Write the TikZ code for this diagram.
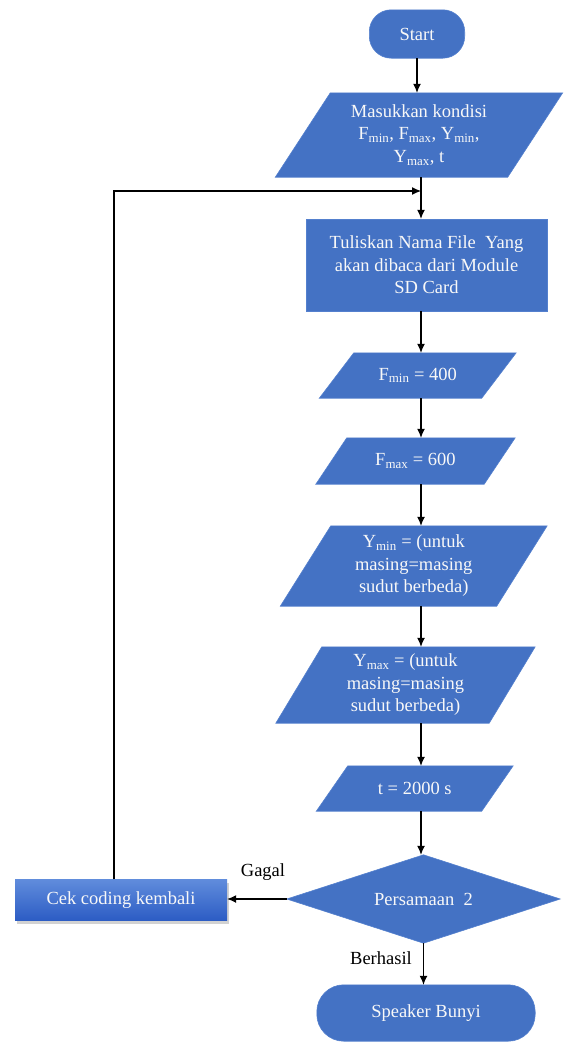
\documentclass[tikz,border=0pt]{standalone}
\usepackage{fontspec}
\setmainfont{Liberation Serif}
\usetikzlibrary{arrows.meta,backgrounds,shadows}
\definecolor{boxblue}{RGB}{68,114,196}
\definecolor{boxedge}{RGB}{84,128,206}
\definecolor{txtw}{RGB}{248,248,248}
\definecolor{cektop}{RGB}{96,140,220}
\definecolor{cekbot}{RGB}{44,92,196}
\newcommand\parabox[2]{%
  \draw[shapefill] ([xshift={-0.5*#2pt}]#1.south west) -- ([xshift={-0.5*#2pt}]#1.south east)
    -- ([xshift={0.5*#2pt}]#1.north east) -- ([xshift={0.5*#2pt}]#1.north west) -- cycle;}
\begin{document}
\begin{tikzpicture}[x=1pt,y=-1pt,
  font=\fontsize{18.5}{22.5}\selectfont,
  txt/.style={text=txtw, align=center, inner sep=0pt},
  shapefill/.style={fill=boxblue, draw=boxedge, line width=0.6pt},
  cekbox/.style={txt, rectangle, top color=cektop, bottom color=cekbot, draw=none,
    drop shadow={shadow xshift=2pt, shadow yshift=-3pt, opacity=0.35}},
  lbl/.style={text=black, inner sep=0pt},
  arr/.style={-{Latex[length=9pt,width=8pt]}, line width=1.1pt, black}]
\useasboundingbox (0,0) rectangle (574,1042);

\node[txt, minimum width=95pt, minimum height=48pt] (start) at (417,34) {Start};
\node[txt, minimum width=232pt, minimum height=84pt] (in) at (419,135)
  {Masukkan kondisi\\F\textsubscript{min}, F\textsubscript{max}, Y\textsubscript{min},\\Y\textsubscript{max}, t};
\node[txt, minimum width=241pt, minimum height=92pt] (file) at (426.5,265)
  {Tuliskan Nama File~ Yang\\akan dibaca dari Module\\SD Card};
\node[txt, minimum width=162pt, minimum height=45pt] (fmin) at (417.75,375.5) {F\textsubscript{min} = 400};
\node[txt, minimum width=168pt, minimum height=46pt] (fmax) at (415.5,461) {F\textsubscript{max} = 600};
\node[txt, minimum width=216pt, minimum height=80pt] (ymin) at (413.75,566)
  {Y\textsubscript{min} = (untuk\\masing=masing\\sudut berbeda)};
\node[txt, minimum width=213pt, minimum height=76pt] (ymax) at (405.5,685)
  {Y\textsubscript{max} = (untuk\\masing=masing\\sudut berbeda)};
\node[txt, minimum width=165pt, minimum height=45pt] (tt) at (414.75,788.5) {t = 2000 s};
\node[txt, minimum width=273pt, minimum height=88pt] (dec) at (423.5,899) {Persamaan~\ 2};
\node[cekbox, minimum width=212pt, minimum height=41pt] (cek) at (121,900) {Cek coding kembali};
\node[txt, minimum width=218pt, minimum height=56pt] (spk) at (426,1013) {Speaker Bunyi};
\node[lbl] (gagal) at (263,872) {Gagal};
\node[lbl] (berhasil) at (381,958) {Berhasil};

\coordinate (cx) at (421,0);
\coordinate (loopx) at (114,0);
\coordinate (join) at (421,191);

\draw[arr] (start.south) -- (in.north -| start.south);
\draw[line width=1.1pt] (in.south -| cx) -- (join);
\draw[arr] (join) -- (file.north -| cx);
\draw[arr] (cek.north -| loopx) -- (loopx |- join) -- (join);
\draw[arr] (file.south -| cx) -- (fmin.north -| cx);
\draw[arr] (fmin.south -| cx) -- (fmax.north -| cx);
\draw[arr] (fmax.south -| cx) -- (ymin.north -| cx);
\draw[arr] (ymin.south -| cx) -- (ymax.north -| cx);
\draw[arr] (ymax.south -| cx) -- (tt.north -| cx);
\draw[arr] (tt.south -| cx) -- (dec.north -| cx);
\draw[arr] (dec.west) -- (dec.west -| cek.east);
\draw[arr] (dec.south) -- (spk.north -| dec.south);

\begin{scope}[on background layer]
\fill[white] (0,0) rectangle (574,1042);
\draw[shapefill, rounded corners=22pt] (start.south west) rectangle (start.north east);
\parabox{in}{55}
\draw[shapefill] (file.south west) rectangle (file.north east);
\parabox{fmin}{34.5}
\parabox{fmax}{31}
\parabox{ymin}{50.5}
\parabox{ymax}{46}
\parabox{tt}{31.5}
\draw[shapefill] (dec.west) -- (dec.north) -- (dec.east) -- (dec.south) -- cycle;
\draw[shapefill, rounded corners=27pt] (spk.south west) rectangle (spk.north east);
\end{scope}
\end{tikzpicture}
\end{document}
